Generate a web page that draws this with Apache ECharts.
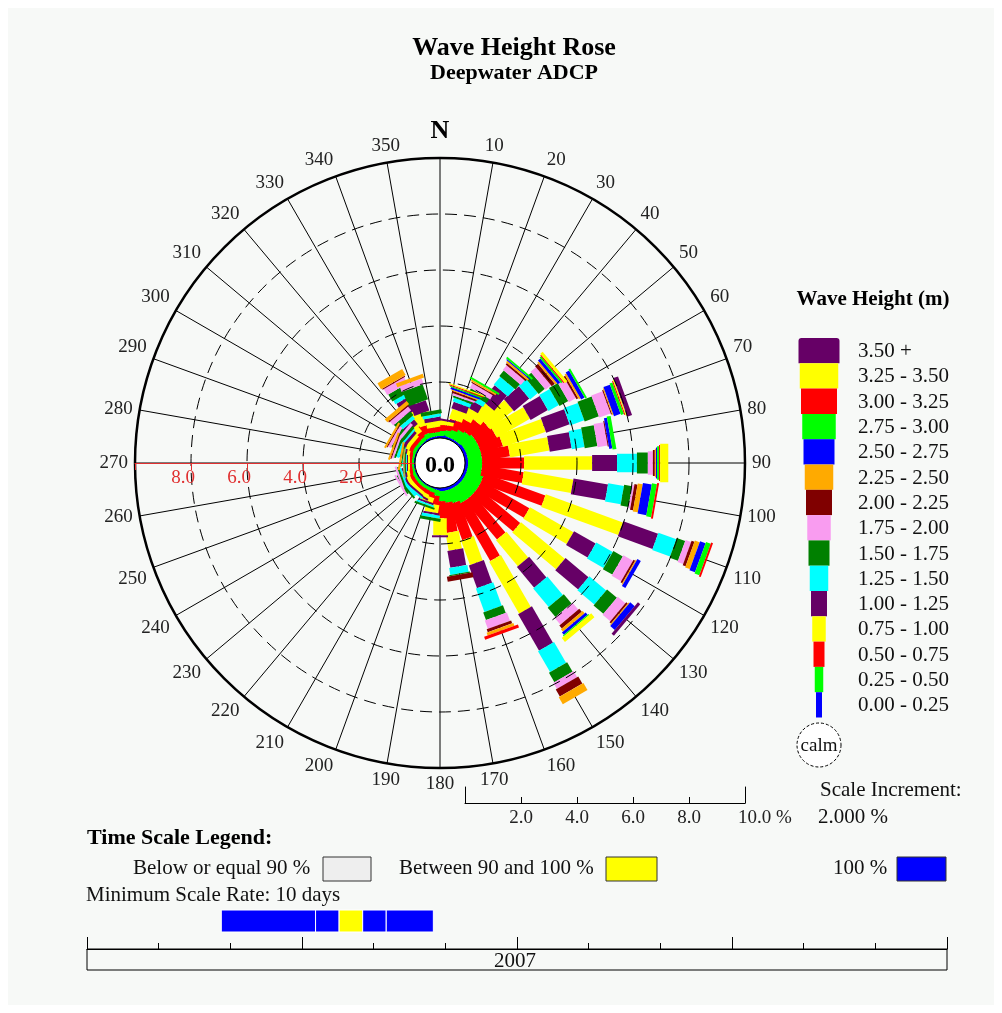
<!DOCTYPE html>
<html>
<head>
<meta charset="utf-8">
<title>Wave Height Rose</title>
<script src="https://cdn.jsdelivr.net/npm/echarts@6/dist/echarts.min.js"></script>
<style>
  html, body { margin: 0; padding: 0; background: #ffffff; }
  #chart { width: 1002px; height: 1013px; }
</style>
</head>
<body>
<div id="chart"></div>
<script>
// Compass bearings (degrees from north, clockwise) of each rose bar
const directions = [0,10,20,30,40,50,60,70,80,90,100,110,120,130,140,150,160,170,
                    180,190,200,210,220,230,240,250,260,270,280,290,300,310,320,330,340,350];

// Wave height classes, innermost first
const binLabels = ['0.00 - 0.25','0.25 - 0.50','0.50 - 0.75','0.75 - 1.00','1.00 - 1.25',
                   '1.25 - 1.50','1.50 - 1.75','1.75 - 2.00','2.00 - 2.25','2.25 - 2.50',
                   '2.50 - 2.75','2.75 - 3.00','3.00 - 3.25','3.25 - 3.50','3.50 +'];
const binColors = ['#0000ff','#00ff00','#ff0000','#ffff00','#660066',
                   '#00ffff','#008000','#f99cf0','#800000','#ffaa00',
                   '#0000ff','#00ff00','#ff0000','#ffff00','#660066'];
const binWidths = [6, 8.5, 11, 13.5, 16, 18.5, 21, 23.5, 26, 28.5, 31, 33.5, 36, 38.5, 41];

// Percent of records per direction for each wave height class
const freq_000_025 = [.07,.11,.07,.07,.07,.11,.11,.11,.11,.11,.11,.11,.11,.11,.11,.11,.11,.11,.11,.07,.04,.04,.04,.04,.04,.04,.04,.04,.04,.04,.04,.04,.04,.07,.07,.07];
const freq_025_050 = [.18,.18,.29,.39,.46,.5,.5,.5,.5,.5,.5,.61,.61,.61,.61,.61,.5,.43,.36,.21,.14,.11,.11,.11,.11,.11,.07,.07,.07,.11,.14,.11,.14,.18,.18,.14];
const freq_050_075 = [.21,.18,.36,.43,.54,.64,.71,.82,1.0,1.5,1.5,2.32,1.96,1.96,1.79,2.32,1.36,1.07,.61,.32,.18,.14,.11,.11,.14,.11,.11,.07,.11,.14,.18,.14,.21,.36,.29,.18];
const freq_075_100 = [.18,.14,.36,.43,.71,1.07,1.36,1.61,1.43,2.43,1.79,2.93,1.79,2.04,1.21,2.14,.93,.64,.61,.29,.18,.14,.11,.14,.14,.14,.11,.07,.11,.14,.18,.14,.29,.57,.46,.21];
const freq_100_125 = [0,.07,.25,.29,.71,.71,.71,.89,.79,.89,1.25,1.32,.89,1.07,.96,1.5,.86,.61,.07,.07,.07,.07,.07,.07,.07,.07,.07,.04,.07,.11,.14,.11,.21,.54,.39,.14];
const freq_125_150 = [0,0,.14,.18,.36,.36,.43,.54,.46,.71,.57,.68,.68,.79,.86,.86,.89,.25,0,.11,.07,0,.07,.11,.11,.07,.04,.04,.04,.11,.11,.07,.14,.14,0,.11];
const freq_150_175 = [0,0,.07,.18,.25,.29,.36,.54,.46,.39,.29,.32,.39,.46,.43,.39,.29,.04,0,.11,.07,0,0,.07,.07,.07,0,.04,.04,.07,.11,.11,.18,.29,.57,.14];
const freq_175_200 = [0,0,.07,.18,.21,.25,.29,.43,.36,.18,.07,.21,.39,.36,.32,.25,.32,0,0,0,0,0,0,0,.07,.07,0,0,0,.07,.11,.11,.18,.25,.21,0];
const freq_200_225 = [0,0,.07,.04,.07,.14,.07,.04,.04,.07,.11,.11,.07,.07,.14,.29,.11,.18,0,0,0,0,0,0,0,0,0,0,0,.04,.04,0,.04,.04,0,0];
const freq_225_250 = [0,0,.04,.07,.07,.07,.07,.04,0,.04,.18,.18,.04,.04,.11,.29,.11,0,0,0,0,0,0,0,0,0,0,.04,.07,.07,.07,0,.14,.25,.14,0];
const freq_250_275 = [0,0,.07,0,.04,.11,.14,.25,.11,.04,.32,.21,.14,.21,.11,0,0,0,0,0,0,0,0,0,0,0,0,0,0,0,0,0,0,0,0,0];
const freq_275_300 = [0,0,.04,.07,.07,.07,.07,.11,.14,.07,.18,.18,0,0,.04,0,0,0,0,0,0,0,0,0,0,0,0,0,0,0,0,0,0,0,0,0];
const freq_300_325 = [0,0,.04,0,0,.04,0,.04,0,.04,.07,.07,0,0,0,0,.11,0,0,0,0,0,0,0,0,0,0,0,0,0,0,0,0,0,0,0];
const freq_325_350 = [0,0,.04,0,0,.11,0,.04,0,.29,0,0,0,0,.18,0,0,0,0,0,0,0,0,0,0,0,0,0,0,0,0,0,0,0,0,0];
const freq_350_up  = [0,0,0,0,0,0,0,.18,0,0,0,0,0,.11,0,0,0,0,0,0,0,0,0,0,0,0,0,0,0,0,0,0,0,0,0,0];
const binValues = [freq_000_025, freq_025_050, freq_050_075, freq_075_100, freq_100_125,
                   freq_125_150, freq_150_175, freq_175_200, freq_200_225, freq_225_250,
                   freq_250_275, freq_275_300, freq_300_325, freq_325_350, freq_350_up];

// Radial scale (percent) and its tick labels
const radialTicks = [2, 4, 6, 8];
const scaleTicks = ['2.0', '4.0', '6.0', '8.0', '10.0 %'];

// Time coverage of the record in 2007 (day of year), in 10-day blocks
const segStartDay = [57, 97, 107, 117, 127];
const segEndDay   = [97, 107, 117, 127, 147];
const segCoverage = ['100', '100', '90-100', '100', '100'];

const SERIF = '"Liberation Serif", "DejaVu Serif", serif';
const CX = 440, CY = 463;

// bearing -> angle-axis value (axis starts at west and runs clockwise)
const toAngle = b => (b + 90) % 360;

const chart = echarts.init(document.getElementById('chart'));

const roseSeries = binValues.map((vals, bin) => {
  const data = directions.map((d, k) => {
    let start = 0;
    for (let j = 0; j < bin; j++) start += binValues[j][k];
    return [start, toAngle(d), start + vals[k]];
  });
  const half = binWidths[bin] / 2;
  return {
    type: 'custom',
    name: binLabels[bin],
    coordinateSystem: 'polar',
    polarIndex: 0,
    z: 2,
    silent: true,
    dimensions: ['r0', 'angle', 'r1'],
    encode: { radius: [0, 2], angle: 1 },
    data: data,
    renderItem: function (params, api) {
      const r0 = api.value(0), a = api.value(1), r1 = api.value(2);
      if (!(r1 - r0 > 0)) return;
      const p0 = api.coord([r0, a]);
      const p1 = api.coord([r1, a]);
      const q0 = api.coord([0, a]);
      const q1 = api.coord([10, a]);
      let ux = q1[0] - q0[0], uy = q1[1] - q0[1];
      const len = Math.hypot(ux, uy);
      ux /= len; uy /= len;
      const nx = -uy * half, ny = ux * half;
      return {
        type: 'polygon',
        shape: { points: [
          [p0[0] + nx, p0[1] + ny], [p1[0] + nx, p1[1] + ny],
          [p1[0] - nx, p1[1] - ny], [p0[0] - nx, p0[1] - ny]
        ] },
        style: { fill: binColors[bin], stroke: null }
      };
    }
  };
});

const timeSeries = {
  type: 'custom',
  xAxisIndex: 2, yAxisIndex: 3,
  silent: true,
  data: segStartDay.map((s, i) => [s, segEndDay[i], segCoverage[i] === '100' ? 1 : 0]),
  encode: { x: [0, 1] },
  renderItem: function (params, api) {
    const p0 = api.coord([api.value(0), 0]);
    const p1 = api.coord([api.value(1), 0]);
    const h = api.size([0, 1])[1];
    return {
      type: 'rect',
      shape: { x: p0[0], y: p0[1] - h / 2, width: p1[0] - p0[0], height: h },
      style: { fill: api.value(2) === 1 ? '#0000ff' : '#ffff00', stroke: '#ffffff', lineWidth: 1 }
    };
  }
};

// Legend: one box per class, widths growing with the class
const legendTop = 338, rowH = 25.3, legendX = 819;
const legendGraphics = [];
for (let i = 0; i < binLabels.length; i++) {
  const bin = binLabels.length - 1 - i;
  const w = binWidths[bin];
  legendGraphics.push({
    type: 'rect', silent: true,
    shape: { x: legendX - w / 2, y: legendTop + i * rowH, width: w, height: rowH,
             r: i === 0 ? [3, 3, 0, 0] : 0 },
    style: { fill: binColors[bin] }
  });
  legendGraphics.push({
    type: 'text', silent: true, x: 858, y: legendTop + i * rowH + rowH / 2 + 1,
    style: { text: binLabels[bin], font: '21px ' + SERIF, fill: '#111', verticalAlign: 'middle' }
  });
}

const textEl = (x, y, text, font, align, fill, z) => ({
  type: 'text', silent: true, x: x, y: y, z: z || 0,
  style: { text: text, font: font, fill: fill || '#111', align: align || 'left', verticalAlign: 'middle' }
});

const graphics = [
  { type: 'rect', silent: true, z: -10, shape: { x: 8, y: 8, width: 986, height: 997 },
    style: { fill: '#f7f9f7' } },
  textEl(514, 48, 'Wave Height Rose', 'bold 26px ' + SERIF, 'center', '#000'),
  textEl(514, 73, 'Deepwater ADCP', 'bold 22px ' + SERIF, 'center', '#000'),
  // calm circle at the rose centre
  { type: 'circle', silent: true, z: 50, shape: { cx: CX, cy: CY, r: 25 },
    style: { fill: '#ffffff', stroke: '#000', lineWidth: 1 } },
  textEl(CX, CY + 3, '0.0', 'bold 24px ' + SERIF, 'center', '#000', 51),
  textEl(873, 300, 'Wave Height (m)', 'bold 21px ' + SERIF, 'center', '#000'),
  ...legendGraphics,
  { type: 'circle', silent: true, shape: { cx: legendX, cy: 745, r: 22 },
    style: { fill: '#ffffff', stroke: '#000', lineWidth: 1, lineDash: [3, 2] } },
  textEl(legendX, 746, 'calm', '19px ' + SERIF, 'center'),
  textEl(820, 790, 'Scale Increment:', '21px ' + SERIF, 'left'),
  textEl(818, 817, '2.000 %', '21px ' + SERIF, 'left'),
  // time scale legend
  textEl(87, 838, 'Time Scale Legend:', 'bold 22px ' + SERIF, 'left', '#000'),
  textEl(133, 868, 'Below or equal 90 %', '21px ' + SERIF, 'left'),
  { type: 'rect', silent: true, shape: { x: 323, y: 857, width: 48, height: 24 },
    style: { fill: '#eeeeee', stroke: '#333', lineWidth: 1 } },
  textEl(399, 868, 'Between 90 and 100 %', '21px ' + SERIF, 'left'),
  { type: 'rect', silent: true, shape: { x: 606, y: 857, width: 51, height: 24 },
    style: { fill: '#ffff00', stroke: '#333', lineWidth: 1 } },
  textEl(833, 868, '100 %', '21px ' + SERIF, 'left'),
  { type: 'rect', silent: true, shape: { x: 897, y: 857, width: 49, height: 24 },
    style: { fill: '#0000ff', stroke: '#333', lineWidth: 1 } },
  textEl(86, 895, 'Minimum Scale Rate: 10 days', '21px ' + SERIF, 'left'),
  { type: 'rect', silent: true, shape: { x: 87, y: 949, width: 860, height: 21 },
    style: { fill: 'none', stroke: '#000', lineWidth: 1 } },
  textEl(515, 961, '2007', '21px ' + SERIF, 'center')
];

chart.setOption({
  animation: false,
  backgroundColor: '#ffffff',
  polar: { center: [CX, CY], radius: [25, 305] },
  angleAxis: {
    type: 'value', min: 0, max: 360, interval: 10,
    startAngle: 180, clockwise: true, z: 1,
    axisLine: { lineStyle: { color: '#000', width: 2.5 } },
    axisTick: { show: false },
    splitLine: { lineStyle: { color: '#000', width: 1 } },
    axisLabel: {
      margin: 7, fontFamily: SERIF, fontSize: 19, color: '#222',
      formatter: v => {
        if (v === 360) return '';
        const b = (v + 270) % 360;
        return b === 0 ? '{n|N}' : String(b);
      },
      rich: { n: { fontFamily: SERIF, fontSize: 26, fontWeight: 'bold', color: '#000', padding: [0, 0, 7, 0] } }
    }
  },
  radiusAxis: {
    type: 'value', min: 0, max: 10, interval: 2, z: 5,
    axisLine: { lineStyle: { color: '#e03030', width: 1.2 } },
    axisTick: { lineStyle: { color: '#e03030' }, length: 7 },
    axisLabel: {
      fontFamily: SERIF, fontSize: 19, color: '#e03030', margin: 6,
      formatter: v => radialTicks.includes(v) ? '{t|' + v.toFixed(1) + '}' : '',
      rich: { t: { fontFamily: SERIF, fontSize: 19, color: '#e03030', padding: [0, 16, 0, 0] } }
    },
    splitLine: { lineStyle: { color: '#000', width: 1, type: [12, 7] } }
  },
  grid: [
    { left: 465, top: 787, width: 280, height: 16 },
    { left: 0, top: 0, width: 1, height: 1, show: false },
    { left: 87, top: 910, width: 860, height: 22 },
    { left: 87, top: 930, width: 860, height: 19 }
  ],
  xAxis: [
    { gridIndex: 0, type: 'value', min: 0, max: 10, interval: 2,
      axisLine: { lineStyle: { color: '#000' } },
      axisTick: { inside: true, length: 6, lineStyle: { color: '#000' } },
      splitLine: { show: false },
      axisLabel: { fontFamily: SERIF, fontSize: 19, color: '#222', margin: 6,
        formatter: v => v === 0 ? '' : (v === 10 ? '{e|' + scaleTicks[4] + '}' : scaleTicks[v / 2 - 1]),
        rich: { e: { fontFamily: SERIF, fontSize: 19, color: '#222', padding: [0, 0, 0, 40] } } } },
    { gridIndex: 1, show: false },
    { gridIndex: 2, type: 'value', min: 0, max: 365, show: false },
    { gridIndex: 3, type: 'value', min: 0, max: 12, interval: 3,
      axisLine: { lineStyle: { color: '#000' } },
      axisTick: { inside: true, length: 12, lineStyle: { color: '#000' } },
      minorTick: { show: true, splitNumber: 3, length: 6, lineStyle: { color: '#000' } },
      axisLabel: { show: false }, splitLine: { show: false } }
  ],
  yAxis: [
    { gridIndex: 0, type: 'value', position: 'left', axisLine: { show: true, lineStyle: { color: '#000' } },
      axisTick: { show: false }, axisLabel: { show: false }, splitLine: { show: false } },
    { gridIndex: 0, type: 'value', position: 'right', axisLine: { show: true, lineStyle: { color: '#000' } },
      axisTick: { show: false }, axisLabel: { show: false }, splitLine: { show: false } },
    { gridIndex: 1, show: false },
    { gridIndex: 2, type: 'category', data: ['2007'], show: false },
    { gridIndex: 3, type: 'value', show: false }
  ],
  series: [...roseSeries, timeSeries],
  graphic: graphics
});
</script>
</body>
</html>
